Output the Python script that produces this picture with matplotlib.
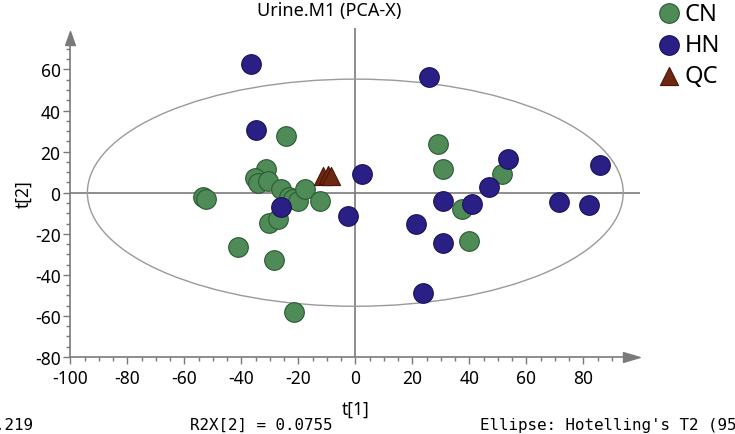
import matplotlib.pyplot as plt
import numpy as np
from matplotlib.patches import Ellipse

plt.rcParams['font.family'] = ['Noto Sans', 'DejaVu Sans']
plt.rcParams['axes.unicode_minus'] = False

# scores
cn_t1 = [-24.3, -31.2, -35.3, -34.2, -30.7, -26.0, -23.3, -21.9, -20.0, -17.8,
         -12.5, -53.5, -52.3, -30.3, -27.2, -41.0, -28.7, -21.6,
         29.0, 30.7, 51.4, 37.5, 39.9]
cn_t2 = [27.6, 11.4, 7.0, 4.9, 5.7, 1.6, -2.0, -3.3, -4.0, 2.0,
         -4.1, -2.0, -3.0, -14.6, -13.0, -26.5, -33.0, -58.2,
         23.9, 11.7, 8.9, -8.1, -23.6]

hn_t1 = [-36.5, -35.0, -26.0, -2.6, 2.3, 25.9, 53.5, 46.8, 86.0, 30.6,
         40.9, 71.3, 82.1, 21.2, 30.7, 23.7]
hn_t2 = [62.9, 30.4, -7.0, -11.5, 9.0, 56.1, 16.6, 2.9, 13.3, -4.2,
         -5.4, -4.6, -6.0, -15.0, -24.7, -48.8]

qc_t1 = [-11.4, -9.6, -8.4]
qc_t2 = [8.0, 8.4, 8.0]

# Hotelling's T2 ellipse semi-axes
ell_a = 94.0
ell_b = 55.3

r2x_1 = 0.219
r2x_2 = 0.0755

axis_gray = '#7a7a7a'

fig = plt.figure(figsize=(7.35, 4.35), dpi=100)
ax = fig.add_axes([70.3 / 735, (435 - 358) / 435, 570 / 735, 328.6 / 435])
ax.set_xlim(-100, 100)
ax.set_ylim(-80, 80)

# zero lines and ellipse
ax.axhline(0, color=axis_gray, lw=1.2, zorder=1)
ax.axvline(0, color=axis_gray, lw=1.2, zorder=1)
ax.add_patch(Ellipse((0, 0), 2 * ell_a, 2 * ell_b, fill=False,
                     edgecolor='#9a9a9a', lw=1.0, zorder=1))

ms = 200
ax.scatter(cn_t1, cn_t2, s=ms, c='#4e8b57', edgecolors='#2c5a33',
           linewidths=0.8, zorder=3, label='CN')
ax.scatter(hn_t1, hn_t2, s=ms, c='#2a1f84', edgecolors='#1a1258',
           linewidths=0.8, zorder=4, label='HN')
ax.scatter(qc_t1, qc_t2, s=170, marker='^', c='#6e2710', edgecolors='#4a1607',
           linewidths=0.8, zorder=5, label='QC')

# axis spines with arrows
for side in ['top', 'right']:
    ax.spines[side].set_visible(False)
for side in ['left', 'bottom']:
    ax.spines[side].set_color(axis_gray)
    ax.spines[side].set_linewidth(1.2)
ax.spines['left'].set_bounds(-80, 72)
ax.spines['bottom'].set_bounds(-100, 94)
arrow_r = [(0, -0.5), (1.7, 0), (0, 0.5), (0, -0.5)]
arrow_u = [(-0.6, 0), (0, 1.7), (0.6, 0), (-0.6, 0)]
ax.plot(94, -80, marker=arrow_r, ms=24, color=axis_gray, clip_on=False)
ax.plot(-100, 72, marker=arrow_u, ms=20, color=axis_gray, clip_on=False)

ax.set_xticks(np.arange(-100, 81, 20))
ax.set_xticks(np.arange(-100, 91, 5), minor=True)
ax.set_yticks(np.arange(-80, 61, 20))
ax.set_yticks(np.arange(-80, 71, 5), minor=True)
ax.tick_params(which='major', length=5, width=1, color=axis_gray,
               labelsize=12.5, pad=2)
ax.tick_params(which='minor', length=3, width=1, color=axis_gray)
ax.tick_params(axis='x', pad=4)

ax.set_xlabel('t[1]', fontsize=12.5, labelpad=9)
ax.set_ylabel('t[2]', fontsize=12.5, labelpad=2)

fig.text(329 / 735, 1 - 16 / 435, 'Urine.M1 (PCA-X)', fontsize=13,
         ha='center', va='baseline')

fig.legend(loc='upper left', bbox_to_anchor=(642 / 735, 1.021), frameon=False,
           fontsize=17, handletextpad=0.0, labelspacing=0.3, borderpad=0.0,
           handlelength=1.3, markerscale=1.0)

mono = dict(family='DejaVu Sans Mono', fontsize=11.4, va='baseline')
fig.text(33 / 735, 1 - 430 / 435, f'R2X[1] = {r2x_1}', ha='right', **mono)
fig.text(190 / 735, 1 - 430 / 435, f'R2X[2] = {r2x_2}', ha='left', **mono)
fig.text(480 / 735, 1 - 430 / 435, "Ellipse: Hotelling's T2 (95%)",
         ha='left', **mono)

fig.savefig('out.png', dpi=100)
